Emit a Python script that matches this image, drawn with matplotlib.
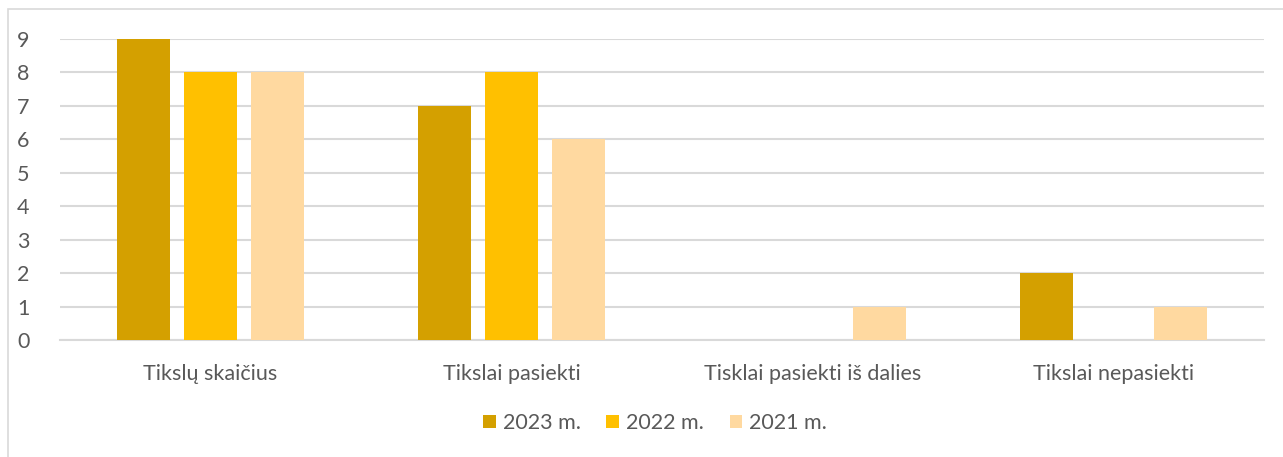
import numpy as np
import matplotlib
matplotlib.use('Agg')
import matplotlib.pyplot as plt
from matplotlib.patches import Rectangle

plt.rcParams['font.family'] = ['Lato', 'DejaVu Sans']

categories = ['Tikslų skaičius', 'Tikslai pasiekti', 'Tisklai pasiekti iš dalies', 'Tikslai nepasiekti']
series_names = ['2023 m.', '2022 m.', '2021 m.']
v2023 = [9, 7, 0, 2]
v2022 = [8, 8, 0, 0]
v2021 = [8, 6, 1, 1]
colors = ['#D4A000', '#FFC000', '#FFD9A0']

TXT = '#595959'
GRID = '#D9D9D9'

fig = plt.figure(figsize=(12.83, 4.57), dpi=100)
ax = fig.add_axes([60 / 1283, 1 - 340 / 457, (1264 - 60) / 1283, (340 - 39) / 457])

x = np.arange(len(categories))
w = 0.176
step = 0.2226
for i, (vals, name) in enumerate(zip([v2023, v2022, v2021], series_names)):
    ax.bar(x + (i - 1) * step, vals, width=w, color=colors[i], label=name, zorder=3)

ax.set_xlim(-0.5, len(categories) - 0.5)
ax.set_ylim(0, 9)
ax.set_yticks(range(10))
ax.yaxis.grid(True, color=GRID, linewidth=1.5, zorder=0)
ax.set_xticks(x)
ax.set_xticklabels(categories)
for s in ['top', 'right', 'left']:
    ax.spines[s].set_visible(False)
ax.spines['bottom'].set_color(GRID)
ax.spines['bottom'].set_linewidth(1.5)
ax.tick_params(axis='both', length=0, colors=TXT, labelsize=15.5)
ax.tick_params(axis='y', pad=22)
ax.tick_params(axis='x', pad=17)

leg = fig.legend(loc='center', bbox_to_anchor=(655 / 1283, 1 - 423 / 457), ncol=3,
                 frameon=False, fontsize=15.5, handlelength=0.6, handleheight=0.6,
                 handletextpad=0.3, columnspacing=1.2)
for t in leg.get_texts():
    t.set_color(TXT)

# chart frame
fig.patches.append(Rectangle((8 / 1283, -0.05), 1.1, 1 - 9 / 457 + 0.05,
                             transform=fig.transFigure, fill=False,
                             edgecolor='#D9D9D9', linewidth=1.2))

fig.savefig('out.png', dpi=100)
